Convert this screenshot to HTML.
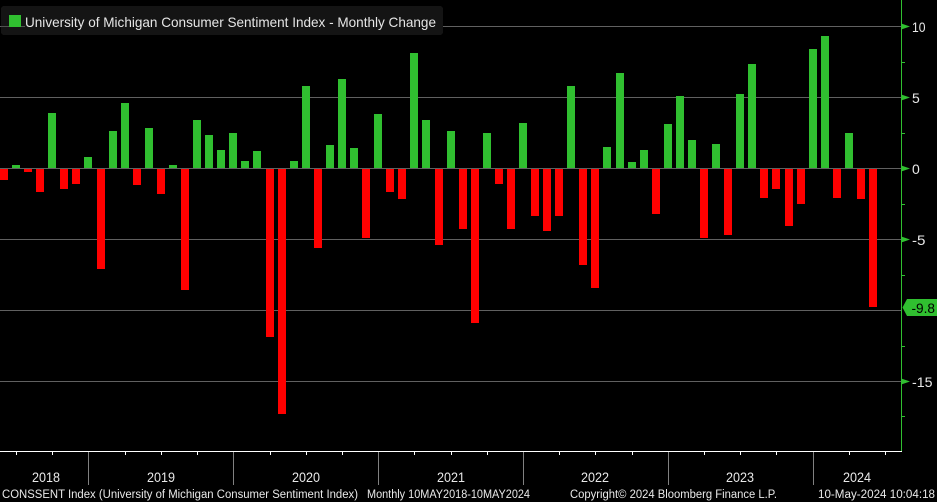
<!DOCTYPE html>
<html>
<head>
<meta charset="utf-8">
<style>
  html, body { margin: 0; padding: 0; background: #000; }
  body { width: 937px; height: 502px; overflow: hidden; }
  svg { display: block; }
  text { font-family: "Liberation Sans", "DejaVu Sans", sans-serif; }
</style>
</head>
<body>
<svg width="937" height="502" viewBox="0 0 937 502" xmlns="http://www.w3.org/2000/svg" shape-rendering="crispEdges">
  <rect x="0" y="0" width="937" height="502" fill="#000"/>

  <!-- gridlines -->
  <g fill="#606060">
    <rect x="0" y="26" width="901" height="1"/>
    <rect x="0" y="97" width="901" height="1"/>
    <rect x="0" y="239" width="901" height="1"/>
    <rect x="0" y="310" width="901" height="1"/>
    <rect x="0" y="381" width="901" height="1"/>
  </g>

  <!-- green bars -->
  <g fill="#30bf30">
    <rect x="12" y="165" width="8" height="3"/>
    <rect x="48" y="113" width="8" height="55"/>
    <rect x="84" y="157" width="8" height="11"/>
    <rect x="109" y="131" width="8" height="37"/>
    <rect x="121" y="103" width="8" height="65"/>
    <rect x="145" y="128" width="8" height="40"/>
    <rect x="169" y="165" width="8" height="3"/>
    <rect x="193" y="120" width="8" height="48"/>
    <rect x="205" y="135" width="8" height="33"/>
    <rect x="217" y="150" width="8" height="18"/>
    <rect x="229" y="133" width="8" height="35"/>
    <rect x="241" y="161" width="8" height="7"/>
    <rect x="253" y="151" width="8" height="17"/>
    <rect x="290" y="161" width="8" height="7"/>
    <rect x="302" y="86" width="8" height="82"/>
    <rect x="326" y="145" width="8" height="23"/>
    <rect x="338" y="79" width="8" height="89"/>
    <rect x="350" y="148" width="8" height="20"/>
    <rect x="374" y="114" width="8" height="54"/>
    <rect x="410" y="53" width="8" height="115"/>
    <rect x="422" y="120" width="8" height="48"/>
    <rect x="447" y="131" width="8" height="37"/>
    <rect x="483" y="133" width="8" height="35"/>
    <rect x="519" y="123" width="8" height="45"/>
    <rect x="567" y="86" width="8" height="82"/>
    <rect x="603" y="147" width="8" height="21"/>
    <rect x="616" y="73" width="8" height="95"/>
    <rect x="628" y="162" width="8" height="6"/>
    <rect x="640" y="150" width="8" height="18"/>
    <rect x="664" y="124" width="8" height="44"/>
    <rect x="676" y="96" width="8" height="72"/>
    <rect x="688" y="140" width="8" height="28"/>
    <rect x="712" y="144" width="8" height="24"/>
    <rect x="736" y="94" width="8" height="74"/>
    <rect x="748" y="64" width="8" height="104"/>
    <rect x="809" y="49" width="8" height="119"/>
    <rect x="821" y="36" width="8" height="132"/>
    <rect x="845" y="133" width="8" height="35"/>
  </g>

  <!-- red bars -->
  <g fill="#ff0000">
    <rect x="0" y="169" width="8" height="11"/>
    <rect x="24" y="169" width="8" height="3"/>
    <rect x="36" y="169" width="8" height="23"/>
    <rect x="60" y="169" width="8" height="20"/>
    <rect x="72" y="169" width="8" height="15"/>
    <rect x="97" y="169" width="8" height="100"/>
    <rect x="133" y="169" width="8" height="16"/>
    <rect x="157" y="169" width="8" height="25"/>
    <rect x="181" y="169" width="8" height="121"/>
    <rect x="266" y="169" width="8" height="168"/>
    <rect x="278" y="169" width="8" height="245"/>
    <rect x="314" y="169" width="8" height="79"/>
    <rect x="362" y="169" width="8" height="69"/>
    <rect x="386" y="169" width="8" height="23"/>
    <rect x="398" y="169" width="8" height="30"/>
    <rect x="435" y="169" width="8" height="76"/>
    <rect x="459" y="169" width="8" height="60"/>
    <rect x="471" y="169" width="8" height="154"/>
    <rect x="495" y="169" width="8" height="15"/>
    <rect x="507" y="169" width="8" height="60"/>
    <rect x="531" y="169" width="8" height="47"/>
    <rect x="543" y="169" width="8" height="62"/>
    <rect x="555" y="169" width="8" height="47"/>
    <rect x="579" y="169" width="8" height="96"/>
    <rect x="591" y="169" width="8" height="119"/>
    <rect x="652" y="169" width="8" height="45"/>
    <rect x="700" y="169" width="8" height="69"/>
    <rect x="724" y="169" width="8" height="66"/>
    <rect x="760" y="169" width="8" height="29"/>
    <rect x="772" y="169" width="8" height="20"/>
    <rect x="785" y="169" width="8" height="57"/>
    <rect x="797" y="169" width="8" height="35"/>
    <rect x="833" y="169" width="8" height="29"/>
    <rect x="857" y="169" width="8" height="30"/>
    <rect x="869" y="169" width="8" height="138"/>
  </g>

  <!-- zero line -->
  <rect x="0" y="168" width="901" height="1" fill="#606060"/>

  <!-- legend -->
  <rect x="1" y="6" width="442" height="29" rx="3" ry="3" fill="#141414"/>
  <rect x="1" y="26" width="24" height="1" fill="#505050"/>
  <rect x="9" y="15" width="12" height="12" fill="#30bf30"/>
  <text x="25" y="27" font-size="14" fill="#e6e6e6" textLength="411" lengthAdjust="spacingAndGlyphs">University of Michigan Consumer Sentiment Index - Monthly Change</text>

  <!-- right axis -->
  <rect x="901" y="0" width="1" height="451" fill="#30bf30"/>
  <g fill="#30bf30" shape-rendering="auto">
    <polygon points="902,23.8 910,26.5 902,29.2"/>
    <polygon points="902,94.8 910,97.5 902,100.2"/>
    <polygon points="902,165.8 910,168.5 902,171.2"/>
    <polygon points="902,236.8 910,239.5 902,242.2"/>
    <polygon points="902,378.8 910,381.5 902,384.2"/>
  </g>
  <g fill="#30bf30">
    <rect x="901" y="62" width="4" height="1"/>
    <rect x="901" y="133" width="4" height="1"/>
    <rect x="901" y="204" width="4" height="1"/>
    <rect x="901" y="275" width="4" height="1"/>
    <rect x="901" y="346" width="4" height="1"/>
    <rect x="901" y="416" width="4" height="1"/>
  </g>
  <g font-size="14" fill="#e8e8e8">
    <text x="912" y="32" textLength="13.5" lengthAdjust="spacingAndGlyphs">10</text>
    <text x="912" y="103">5</text>
    <text x="912" y="174">0</text>
    <text x="912" y="245" textLength="13.5" lengthAdjust="spacingAndGlyphs">-5</text>
    <text x="912" y="387" textLength="20.5" lengthAdjust="spacingAndGlyphs">-15</text>
  </g>

  <!-- last value tag -->
  <polygon points="902.5,307.5 907,299 937,299 937,316 907,316" fill="#30bf30" shape-rendering="auto"/>
  <text x="911.5" y="313" font-size="14" fill="#000" textLength="23.5" lengthAdjust="spacingAndGlyphs">-9.8</text>

  <!-- x axis -->
  <rect x="0" y="451" width="902" height="1" fill="#ffffff"/>
  <g fill="#ffffff">
    <rect x="16" y="452" width="1" height="3"/>
    <rect x="52" y="452" width="1" height="3"/>
    <rect x="125" y="452" width="1" height="3"/>
    <rect x="161" y="452" width="1" height="3"/>
    <rect x="197" y="452" width="1" height="3"/>
    <rect x="270" y="452" width="1" height="3"/>
    <rect x="306" y="452" width="1" height="3"/>
    <rect x="342" y="452" width="1" height="3"/>
    <rect x="414" y="452" width="1" height="3"/>
    <rect x="451" y="452" width="1" height="3"/>
    <rect x="487" y="452" width="1" height="3"/>
    <rect x="559" y="452" width="1" height="3"/>
    <rect x="595" y="452" width="1" height="3"/>
    <rect x="632" y="452" width="1" height="3"/>
    <rect x="704" y="452" width="1" height="3"/>
    <rect x="740" y="452" width="1" height="3"/>
    <rect x="776" y="452" width="1" height="3"/>
    <rect x="849" y="452" width="1" height="3"/>
    <rect x="885" y="452" width="1" height="3"/>
  </g>
  <g fill="#808080">
    <rect x="88" y="452" width="1" height="33"/>
    <rect x="233" y="452" width="1" height="33"/>
    <rect x="378" y="452" width="1" height="33"/>
    <rect x="523" y="452" width="1" height="33"/>
    <rect x="668" y="452" width="1" height="33"/>
    <rect x="813" y="452" width="1" height="33"/>
  </g>
  <g font-size="14" fill="#e8e8e8" text-anchor="middle">
    <text x="46" y="482" textLength="28" lengthAdjust="spacingAndGlyphs">2018</text>
    <text x="161" y="482" textLength="28" lengthAdjust="spacingAndGlyphs">2019</text>
    <text x="306" y="482" textLength="28" lengthAdjust="spacingAndGlyphs">2020</text>
    <text x="451" y="482" textLength="28" lengthAdjust="spacingAndGlyphs">2021</text>
    <text x="595" y="482" textLength="28" lengthAdjust="spacingAndGlyphs">2022</text>
    <text x="740" y="482" textLength="28" lengthAdjust="spacingAndGlyphs">2023</text>
    <text x="857" y="482" textLength="28" lengthAdjust="spacingAndGlyphs">2024</text>
  </g>

  <!-- footer -->
  <g font-size="11.5" fill="#e8e8e8">
    <text x="2" y="498" textLength="356" lengthAdjust="spacingAndGlyphs">CONSSENT Index (University of Michigan Consumer Sentiment Index)</text>
    <text x="367" y="498" textLength="163" lengthAdjust="spacingAndGlyphs">Monthly 10MAY2018-10MAY2024</text>
    <text x="570" y="498" textLength="207" lengthAdjust="spacingAndGlyphs">Copyright© 2024 Bloomberg Finance L.P.</text>
    <text x="818" y="498" textLength="117" lengthAdjust="spacingAndGlyphs">10-May-2024 10:04:18</text>
  </g>
</svg>
</body>
</html>
